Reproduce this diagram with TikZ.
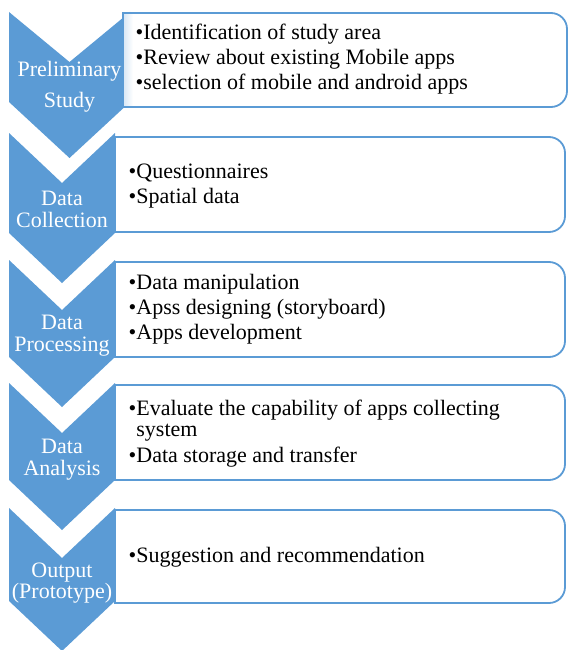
\documentclass[tikz,border=0pt]{standalone}
\usepackage{fontspec}
\setmainfont{Liberation Serif}
\definecolor{chev}{HTML}{5B9BD5}
\begin{document}
\begin{tikzpicture}[x=1pt,y=-1pt,
  chevfill/.style={fill=chev,draw=none},
  boxline/.style={draw=chev,line width=1.8pt},
  itemtext/.style={anchor=base west,inner sep=0pt,font=\fontsize{22}{25}\selectfont,text=black},
  chevtext/.style={anchor=base,inner sep=0pt,font=\fontsize{22}{25}\selectfont,text=white}]
\useasboundingbox (0,0) rectangle (568,650);
% chevrons
\fill[chevfill] (9,12) -- (69.5,62) -- (130,12) -- (130,102) -- (69.5,158) -- (9,102) -- cycle;
\foreach \T/\S in {133/233,260/357,383/480,508/601}{
  \fill[chevfill] (9,\T) -- (62,\T+50) -- (115,\T) -- (115,\S) -- (62,\S+50) -- (9,\S) -- cycle;
}
% boxes
\fill[white] (123,13) [rounded corners=16pt] -- (567,13) -- (567,107) [sharp corners] -- (123,107) -- cycle;
\shade[left color=chev!22,right color=white] (124,14) rectangle (133,106);
\draw[boxline] (123,13) [rounded corners=16pt] -- (567,13) -- (567,107) [sharp corners] -- (123,107) -- cycle;
\foreach \A/\B in {137/232,262/357,385/480,510/603}{
  \draw[boxline,fill=white] (115,\A) [rounded corners=16pt] -- (565,\A) -- (565,\B) [sharp corners] -- (115,\B) -- cycle;
}
% chevron labels
\node[chevtext] (c1a) at (69.5,77) {Preliminary};
\node[chevtext] (c1b) at (69.5,107) {Study};
\node[chevtext] (c2a) at (62,205) {Data};
\node[chevtext] (c2b) at (62,227) {Collection};
\node[chevtext] (c3a) at (62,329) {Data};
\node[chevtext] (c3b) at (62,351) {Processing};
\node[chevtext] (c4a) at (62,453) {Data};
\node[chevtext] (c4b) at (62,475) {Analysis};
\node[chevtext] (c5a) at (62,577) {Output};
\node[chevtext] (c5b) at (62,598) {(Prototype)};
% box texts
\node[itemtext] (b1a) at (135.5,40) {•Identification of study area};
\node[itemtext] (b1b) at (135.5,65) {•Review about existing Mobile apps};
\node[itemtext] (b1c) at (135.5,90) {•selection of mobile and android apps};
\node[itemtext] (b2a) at (128.5,178) {•Questionnaires};
\node[itemtext] (b2b) at (128.5,203) {•Spatial data};
\node[itemtext] (b3a) at (128.5,289) {•Data manipulation};
\node[itemtext] (b3b) at (128.5,314) {•Apss designing (storyboard)};
\node[itemtext] (b3c) at (128.5,339) {•Apps development};
\node[itemtext] (b4a) at (128.5,415) {•Evaluate the capability of apps collecting};
\node[itemtext] (b4b) at (128.5,436) {\phantom{•}system};
\node[itemtext] (b4c) at (128.5,462) {•Data storage and transfer};
\node[itemtext] (b5a) at (128.5,562) {•Suggestion and recommendation};
\end{tikzpicture}
\end{document}
